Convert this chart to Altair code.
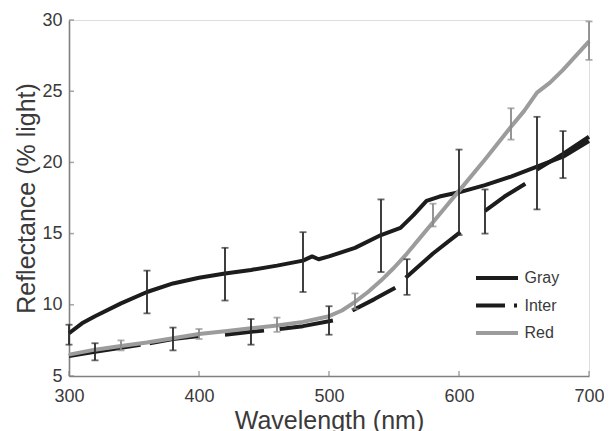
import altair as alt
import pandas as pd

# ---- data ----
gray_wl = [300, 310, 320, 340, 360, 380, 400, 420, 440, 460, 480, 487, 492, 500, 520, 540, 555, 565, 575, 585, 600, 620, 640, 660, 680, 700]
gray_val = [8.0, 8.7, 9.2, 10.1, 10.9, 11.5, 11.9, 12.2, 12.45, 12.75, 13.1, 13.4, 13.2, 13.4, 14.0, 14.9, 15.4, 16.3, 17.3, 17.6, 17.9, 18.4, 19.0, 19.7, 20.4, 21.5]

red_wl = [300, 320, 340, 360, 380, 400, 420, 440, 460, 480, 500, 510, 520, 530, 540, 550, 560, 570, 580, 590, 600, 620, 640, 650, 660, 670, 680, 700]
red_val = [6.5, 6.85, 7.1, 7.35, 7.65, 7.95, 8.15, 8.35, 8.55, 8.8, 9.2, 9.6, 10.2, 10.9, 11.7, 12.6, 13.6, 14.7, 15.8, 16.9, 18.0, 20.2, 22.5, 23.6, 24.9, 25.6, 26.5, 28.5]

inter_wl = [300, 320, 355, 362, 380, 400, 420, 440, 450, 462, 480, 503, 518, 535, 551, 559, 580, 601, 620, 635, 651, 660, 680, 700]
inter_val = [6.4, 6.7, 7.2, 7.3, 7.6, 7.8, 7.9, 8.1, 8.2, 8.3, 8.5, 8.9, 9.6, 10.4, 11.2, 11.9, 13.6, 15.1, 16.6, 17.6, 18.5, 19.5, 20.6, 21.8]
inter_seg = [1, 1, 1, 2, 2, 2, 3, 3, 3, 4, 4, 4, 5, 5, 5, 6, 6, 6, 7, 7, 7, 8, 8, 8]

gray_bar_wl = [300, 360, 420, 480, 540, 600, 660]
gray_bar_lo = [7.2, 9.4, 10.3, 10.9, 12.3, 14.9, 16.7]
gray_bar_hi = [8.6, 12.4, 14.0, 15.1, 17.4, 20.9, 23.2]

inter_bar_wl = [320, 380, 440, 500, 560, 620, 680]
inter_bar_lo = [6.1, 6.8, 7.2, 7.9, 10.7, 15.0, 18.9]
inter_bar_hi = [7.3, 8.4, 9.0, 9.9, 13.2, 18.1, 22.2]

red_bar_wl = [340, 400, 460, 520, 580, 640, 700]
red_bar_lo = [6.8, 7.6, 8.1, 9.7, 15.5, 21.6, 27.2]
red_bar_hi = [7.5, 8.3, 9.1, 10.8, 17.1, 23.8, 29.9]

series = ["Gray", "Inter", "Red"]
x_ticks = [300, 400, 500, 600, 700]
y_ticks = [5, 10, 15, 20, 25, 30]

# ---- tables ----
lines = pd.concat([
    pd.DataFrame({"series": "Gray", "wl": gray_wl, "val": gray_val, "seg": "g"}),
    pd.DataFrame({"series": "Inter", "wl": inter_wl, "val": inter_val,
                  "seg": ["i" + str(s) for s in inter_seg]}),
    pd.DataFrame({"series": "Red", "wl": red_wl, "val": red_val, "seg": "r"}),
], ignore_index=True)

bars = pd.concat([
    pd.DataFrame({"series": "Gray", "wl": gray_bar_wl, "lo": gray_bar_lo, "hi": gray_bar_hi}),
    pd.DataFrame({"series": "Inter", "wl": inter_bar_wl, "lo": inter_bar_lo, "hi": inter_bar_hi}),
    pd.DataFrame({"series": "Red", "wl": red_bar_wl, "lo": red_bar_lo, "hi": red_bar_hi}),
], ignore_index=True)

legend_pts = lines.groupby("series", as_index=False).first()

FONT = "Liberation Sans"
xscale = alt.Scale(domain=[300, 700], nice=False, zero=False)
yscale = alt.Scale(domain=[5, 30], nice=False, zero=False)
color_scale = alt.Scale(domain=series, range=["#1c1c1c", "#1c1c1c", "#9c9c9c"])
dash_scale = alt.Scale(domain=series, range=[[1, 0], [29, 9, 3, 60], [1, 0]])
bar_col = alt.condition(alt.datum.series == "Red", alt.value("#8a8a8a"), alt.value("#2a2a2a"))

x_axis = alt.Axis(values=x_ticks, title="Wavelength (nm)", grid=False, tickSize=0, labelFlush=False,
                  labelFontSize=18, labelPadding=11, labelColor="#3a3a3a", labelFont=FONT,
                  titleFontSize=25, titleFont=FONT, titleFontWeight="normal", titleColor="#3a3a3a",
                  titlePadding=3, domainColor="#808080", domainWidth=1.6)
y_axis = alt.Axis(values=y_ticks, title="Reflectance (% light)", grid=False, tickSize=0, labelFlush=False,
                  labelFontSize=18, labelPadding=7, labelColor="#3a3a3a", labelFont=FONT,
                  titleFontSize=25, titleFont=FONT, titleFontWeight="normal", titleColor="#3a3a3a",
                  titlePadding=2, domainColor="#808080", domainWidth=1.6)

leg = alt.Legend(orient="none", legendX=412, legendY=242, symbolType="M-1.5,0H1.5",
                 symbolSize=784, symbolStrokeWidth=4, labelFontSize=16,
                 labelFont=FONT, labelColor="#3a3a3a", rowPadding=3.5,
                 labelOffset=11.5, padding=0)

base_lines = alt.Chart(lines).mark_line(strokeWidth=4, strokeCap="butt", strokeJoin="round").encode(
    x=alt.X("wl:Q", scale=xscale, axis=x_axis),
    y=alt.Y("val:Q", scale=yscale, axis=y_axis),
    color=alt.Color("series:N", scale=color_scale, title=None, legend=leg),
    detail="seg:N",
    order="wl:Q",
)

legend_layer = alt.Chart(legend_pts).mark_line(strokeWidth=4).encode(
    x=alt.X("wl:Q", scale=xscale),
    y=alt.Y("val:Q", scale=yscale),
    color=alt.Color("series:N", scale=color_scale, title=None, legend=leg),
    strokeDash=alt.StrokeDash("series:N", title=None, scale=dash_scale, legend=leg),
)

bar_rules = alt.Chart(bars).mark_rule(strokeWidth=1.8).encode(
    x=alt.X("wl:Q", scale=xscale),
    y=alt.Y("lo:Q", scale=yscale),
    y2="hi:Q",
    color=bar_col,
)
caps_lo = alt.Chart(bars).mark_tick(orient="horizontal", size=7, thickness=1.8).encode(
    x=alt.X("wl:Q", scale=xscale),
    y=alt.Y("lo:Q", scale=yscale),
    color=bar_col,
)
caps_hi = alt.Chart(bars).mark_tick(orient="horizontal", size=7, thickness=1.8).encode(
    x=alt.X("wl:Q", scale=xscale),
    y=alt.Y("hi:Q", scale=yscale),
    color=bar_col,
)

xt = alt.Chart(pd.DataFrame({"t": x_ticks})).mark_tick(
    orient="vertical", size=5, thickness=1.5, color="#808080", yOffset=-2.5).encode(
    x=alt.X("t:Q", scale=xscale), y=alt.datum(5))
yt = alt.Chart(pd.DataFrame({"t": y_ticks})).mark_tick(
    orient="horizontal", size=5, thickness=1.5, color="#808080", xOffset=2.5).encode(
    y=alt.Y("t:Q", scale=yscale), x=alt.datum(300))

chart = alt.layer(base_lines, legend_layer, bar_rules, caps_lo, caps_hi, xt, yt).properties(
    width=520, height=356,
    autosize=alt.AutoSizeParams(type="none"),
    padding={"left": 61, "top": 12, "right": 15, "bottom": 55},
).configure_view(stroke=None).configure(background="white")

chart.save("out.html", embed_options={"renderer": "svg", "actions": False})
